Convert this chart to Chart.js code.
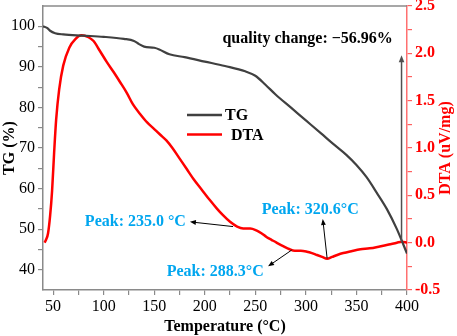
<!DOCTYPE html>
<html>
<head>
<meta charset="utf-8">
<script src="https://cdn.jsdelivr.net/npm/chart.js@4.4.1/dist/chart.umd.min.js"></script>
<style>
  body { margin: 0; background: #fff; }
  #box { width: 457px; height: 336px; }
</style>
</head>
<body>
<div id="box"><canvas id="tgChart" width="457" height="336"></canvas></div>
<script>
var tgTemp = [40, 44, 47, 52, 60, 80, 100, 120, 130, 135, 140, 150, 155, 165, 180, 200, 220, 240, 250, 260, 270, 285, 300, 315, 327, 340, 350, 360, 370, 380, 390, 400];
var tgValue = [100, 99.6, 98.9, 98.3, 98.0, 97.7, 97.4, 96.9, 96.4, 95.6, 95.0, 94.7, 94.3, 93.1, 92.4, 91.3, 90.2, 88.9, 87.8, 85.6, 83.2, 80.0, 76.8, 73.6, 71.0, 68.3, 65.8, 62.8, 59.0, 55.0, 50.0, 44.0];

var dtaTemp = [41.5, 43, 45, 47, 49, 51, 53, 56, 60, 66, 72, 78, 85, 90, 96, 103, 110, 116, 123, 129, 136, 143, 150, 156, 162, 168, 175, 182, 189, 197, 205, 212, 218, 225, 232, 238, 245, 251, 256, 261, 266, 271, 278, 284, 289, 295, 301, 306, 311, 316, 321, 326, 331, 337, 345, 354, 363, 373, 382, 390, 395, 400];
var dtaValue = [0.0, 0.03, 0.10, 0.28, 0.55, 0.95, 1.30, 1.62, 1.87, 2.06, 2.15, 2.19, 2.17, 2.13, 2.03, 1.91, 1.80, 1.70, 1.58, 1.46, 1.36, 1.27, 1.20, 1.14, 1.08, 1.00, 0.89, 0.78, 0.67, 0.56, 0.45, 0.36, 0.29, 0.22, 0.17, 0.15, 0.15, 0.13, 0.10, 0.06, 0.03, 0.00, -0.04, -0.07, -0.085, -0.085, -0.095, -0.11, -0.13, -0.15, -0.17, -0.15, -0.13, -0.11, -0.09, -0.07, -0.06, -0.04, -0.02, 0.0, 0.01, 0.0];

// annotations: [text, x, y(DTA axis)]
var qualityNote = ['quality change: \u221256.96%', 386, 2.15];
var peakNotes = [
    ['Peak: 235.0 \u00B0C', 81.4, 0.22],
    ['Peak: 320.6\u00B0C', 256.3, 0.35],
    ['Peak: 288.3\u00B0C', 162.3, -0.31]
];
// arrows: [tailX, tailY, headX, headY] in data units (DTA axis)
var peakArrows = [
    [228, 0.17, 185.3, 0.22],
    [286, -0.078, 262.6, -0.25],
    [321, -0.166, 316.7, 0.25]
];
var qualityArrow = [394.6, 0.0, 394.6, 1.98];

function toPoints(xs, ys) {
    return xs.map(function (x, i) { return { x: x, y: ys[i] }; });
}

var serif = '"Liberation Serif", "Times New Roman", serif';

function arrow(ctx, x1, y1, x2, y2, color, width, head) {
    var ang = Math.atan2(y2 - y1, x2 - x1);
    ctx.save();
    ctx.strokeStyle = color;
    ctx.fillStyle = color;
    ctx.lineWidth = width;
    ctx.beginPath();
    ctx.moveTo(x1, y1);
    ctx.lineTo(x2 - Math.cos(ang) * head * 0.6, y2 - Math.sin(ang) * head * 0.6);
    ctx.stroke();
    ctx.beginPath();
    ctx.moveTo(x2, y2);
    ctx.lineTo(x2 - head * Math.cos(ang) + head * 0.4 * Math.sin(ang), y2 - head * Math.sin(ang) - head * 0.4 * Math.cos(ang));
    ctx.lineTo(x2 - head * Math.cos(ang) - head * 0.4 * Math.sin(ang), y2 - head * Math.sin(ang) + head * 0.4 * Math.cos(ang));
    ctx.closePath();
    ctx.fill();
    ctx.restore();
}

function noPad(s) {
    s.paddingTop = 0;
    s.paddingBottom = 0;
}

var extras = {
    id: 'extras',
    afterDraw: function (chart) {
        var ctx = chart.ctx, area = chart.chartArea;
        var xs = chart.scales.x, ys = chart.scales.y1;

        // top frame line
        ctx.save();
        ctx.strokeStyle = '#8a8a8a';
        ctx.lineWidth = 1.5;
        ctx.beginPath();
        ctx.moveTo(area.left, area.top);
        ctx.lineTo(area.right, area.top);
        ctx.stroke();
        ctx.restore();

        // legend
        ctx.save();
        ctx.lineWidth = 2.5;
        ctx.strokeStyle = '#404040';
        ctx.beginPath(); ctx.moveTo(187, 115); ctx.lineTo(222, 115); ctx.stroke();
        ctx.strokeStyle = '#ff0000';
        ctx.beginPath(); ctx.moveTo(187, 134.5); ctx.lineTo(222, 134.5); ctx.stroke();
        ctx.fillStyle = '#000';
        ctx.font = 'bold 16px ' + serif;
        ctx.textBaseline = 'middle';
        ctx.fillText('TG', 225, 116);
        ctx.fillText('DTA', 231, 136);
        ctx.restore();

        // quality change note + arrow
        arrow(ctx, xs.getPixelForValue(qualityArrow[0]), ys.getPixelForValue(qualityArrow[1]),
            xs.getPixelForValue(qualityArrow[2]), ys.getPixelForValue(qualityArrow[3]), '#505050', 1.5, 7);
        ctx.save();
        ctx.font = 'bold 16px ' + serif;
        ctx.fillStyle = '#000';
        ctx.textAlign = 'right';
        ctx.textBaseline = 'middle';
        ctx.fillText(qualityNote[0], xs.getPixelForValue(qualityNote[1]), ys.getPixelForValue(qualityNote[2]));
        ctx.restore();

        // peak notes
        peakArrows.forEach(function (a) {
            arrow(ctx, xs.getPixelForValue(a[0]), ys.getPixelForValue(a[1]),
                xs.getPixelForValue(a[2]), ys.getPixelForValue(a[3]), '#000', 1, 6);
        });
        ctx.save();
        ctx.font = 'bold 16px ' + serif;
        ctx.fillStyle = '#00a6ef';
        ctx.textBaseline = 'middle';
        peakNotes.forEach(function (p) {
            ctx.fillText(p[0], xs.getPixelForValue(p[1]), ys.getPixelForValue(p[2]));
        });
        ctx.restore();

        // right axis title, reading bottom to top
        ctx.save();
        ctx.translate(446, (area.top + area.bottom) / 2);
        ctx.rotate(-Math.PI / 2);
        ctx.font = 'bold 16px ' + serif;
        ctx.fillStyle = '#ff0000';
        ctx.textAlign = 'center';
        ctx.textBaseline = 'middle';
        ctx.fillText('DTA (uV/mg)', 0, 0);
        ctx.restore();
    }
};

var ctx = document.getElementById('tgChart').getContext('2d');
var chart = new Chart(ctx, {
    type: 'line',
    data: {
        datasets: [
            {
                label: 'TG',
                data: toPoints(tgTemp, tgValue),
                yAxisID: 'y',
                borderColor: '#404040',
                borderWidth: 2.2,
                pointRadius: 0,
                cubicInterpolationMode: 'monotone'
            },
            {
                label: 'DTA',
                data: toPoints(dtaTemp, dtaValue),
                yAxisID: 'y1',
                borderColor: '#ff0000',
                borderWidth: 2.5,
                pointRadius: 0,
                cubicInterpolationMode: 'monotone'
            }
        ]
    },
    options: {
        responsive: false,
        animation: false,
        devicePixelRatio: 1,
        layout: { padding: { top: 6, right: 0, left: 0, bottom: 0 } },
        plugins: { legend: { display: false }, tooltip: { enabled: false } },
        scales: {
            x: {
                type: 'linear',
                min: 40,
                max: 400,
                afterFit: function (s) { s.height = 46; s.paddingLeft = 0; s.paddingRight = 0; },
                ticks: {
                    stepSize: 25,
                    includeBounds: false,
                    autoSkip: false,
                    maxRotation: 0,
                    padding: 2,
                    color: '#000',
                    font: { family: serif, size: 16 },
                    callback: function (v) { return v % 50 === 0 ? v : ''; }
                },
                grid: { drawOnChartArea: false, tickLength: 5, color: '#8a8a8a', lineWidth: 1.2 },
                border: { color: '#8a8a8a', width: 1.5 },
                title: { display: true, text: 'Temperature (\u00B0C)', color: '#000', font: { family: serif, size: 16, weight: 'bold' }, padding: { top: 0, bottom: 0 } }
            },
            y: {
                position: 'left',
                min: 35,
                max: 105,
                afterFit: function (s) { s.width = 43; noPad(s); },
                afterBuildTicks: function (s) { s.ticks = s.ticks.filter(function (t) { return t.value >= 40 && t.value <= 100; }); },
                ticks: {
                    stepSize: 5,
                    autoSkip: false,
                    padding: 3,
                    color: '#000',
                    font: { family: serif, size: 16 },
                    callback: function (v) { return v % 10 === 0 ? v : ''; }
                },
                grid: { drawOnChartArea: false, tickLength: 5, color: '#8a8a8a', lineWidth: 1.2 },
                border: { color: '#8a8a8a', width: 1.5 },
                title: { display: true, text: 'TG (%)', color: '#000', font: { family: serif, size: 16, weight: 'bold' }, padding: { top: 0, bottom: 0 } }
            },
            y1: {
                position: 'right',
                min: -0.5,
                max: 2.5,
                afterFit: function (s) { s.width = 50; noPad(s); },
                ticks: {
                    stepSize: 0.25,
                    autoSkip: false,
                    padding: 3,
                    color: '#ff0000',
                    font: { family: serif, size: 16, weight: 'bold' },
                    callback: function (v) { return Math.abs(v * 2 - Math.round(v * 2)) < 1e-6 ? v.toFixed(1) : ''; }
                },
                grid: { drawOnChartArea: false, tickLength: 5, color: '#ff6060', lineWidth: 1.2 },
                border: { color: '#ff7070', width: 1.5 }
            }
        }
    },
    plugins: [extras]
});
</script>
</body>
</html>
